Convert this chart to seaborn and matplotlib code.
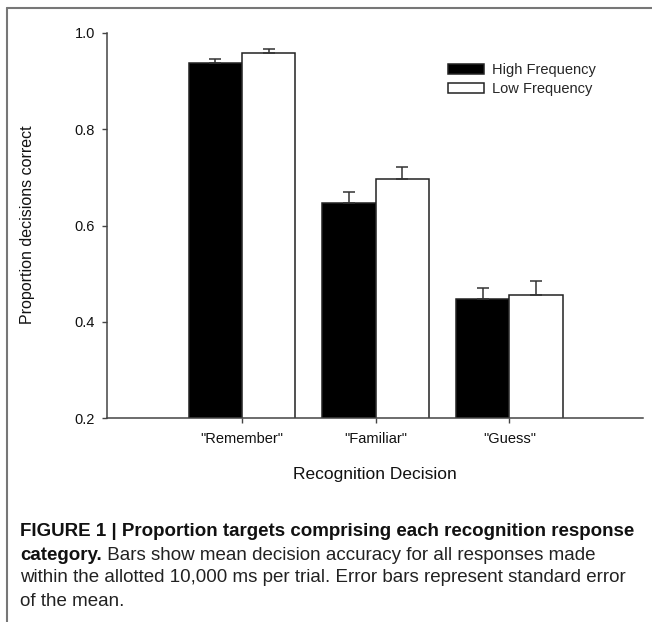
import matplotlib
matplotlib.use('Agg')
import matplotlib.pyplot as plt
from matplotlib.lines import Line2D
import seaborn as sns
import pandas as pd

decisions = ['"Remember"', '"Familiar"', '"Guess"']
groups = ['High Frequency', 'Low Frequency']
high_mean = [0.937, 0.646, 0.448]
low_mean = [0.958, 0.697, 0.455]
high_se = [0.009, 0.023, 0.023]
low_se = [0.008, 0.025, 0.029]

caption_1 = 'FIGURE 1 | Proportion targets comprising each recognition response'
caption_2b = 'category.'
caption_2 = ' Bars show mean decision accuracy for all responses made'
caption_3 = 'within the allotted 10,000 ms per trial. Error bars represent standard error'
caption_4 = 'of the mean.'

df = pd.DataFrame({
    'decision': decisions * 2,
    'freq': [groups[0]] * 3 + [groups[1]] * 3,
    'mean': high_mean + low_mean,
})

sns.set_style('white')
plt.rcParams['font.family'] = ['Liberation Sans', 'DejaVu Sans']

W, H = 652, 622
fig = plt.figure(figsize=(W / 100, H / 100), dpi=100)
ax = fig.add_axes([107 / W, 1 - 418 / H, (643 - 107) / W, (418 - 33) / H])

sns.barplot(data=df, x='decision', y='mean', hue='freq', palette=['black', 'white'],
            edgecolor='#222222', linewidth=1.1, errorbar=None, width=0.8, gap=0, ax=ax)

# one-sided error bars (upward only)
for cont, ses in zip(ax.containers, [high_se, low_se]):
    for bar, s in zip(cont, ses):
        xc = bar.get_x() + bar.get_width() / 2
        ax.errorbar(xc, bar.get_height(), yerr=[[0], [s]], fmt='none',
                    ecolor='#333333', elinewidth=1.1, capsize=4.6, capthick=1.1, zorder=1)

ax.set_ylim(0.2, 1.0)
ax.set_xlim(-1.01, 3.0)
ax.set_yticks([0.2, 0.4, 0.6, 0.8, 1.0])
ax.set_yticklabels(['0.2', '0.4', '0.6', '0.8', '1.0'])
sns.despine(ax=ax)
for sp in ['left', 'bottom']:
    ax.spines[sp].set_color('#444444')
    ax.spines[sp].set_linewidth(1.1)
ax.tick_params(axis='both', direction='out', length=3.6, width=1, color='#444444',
               labelsize=10.5, labelcolor='#111111', left=True, bottom=True)
ax.tick_params(axis='y', pad=5)
ax.tick_params(axis='x', pad=6.5)

ax.set_xlabel('Recognition Decision', fontsize=12.5, color='#111111')
ax.xaxis.set_label_coords(0.5, (418 - 475) / 385)
ax.xaxis.label.set_va('center')
ax.set_ylabel('Proportion decisions correct', fontsize=11.5, color='#111111')
ax.yaxis.set_label_coords((28 - 107) / 536, (418 - 225) / 385)
ax.yaxis.label.set_va('center')

ax.legend(loc='upper left', bbox_to_anchor=(448 / W, 1 - 63 / H), bbox_transform=fig.transFigure,
          frameon=False, fontsize=10.5, handlelength=2.5, handleheight=0.69,
          handletextpad=0.55, labelspacing=0.35, borderpad=0, borderaxespad=0)

# frame lines of the figure panel
fig.add_artist(Line2D([7 / W, 7 / W], [0, 1 - 8 / H], color='#777777', lw=1.5))
fig.add_artist(Line2D([7 / W, 1], [1 - 8 / H, 1 - 8 / H], color='#777777', lw=1.5))

cap_font = ['Liberation Sans', 'DejaVu Sans']
cap_size = 13.5
x0 = 20 / W
fig.text(x0, 1 - 532 / H, caption_1, fontsize=cap_size, fontweight='bold', family=cap_font,
         va='center', color='#111111')
t2 = fig.text(x0, 1 - 555 / H, caption_2b, fontsize=cap_size, fontweight='bold', family=cap_font,
              va='center', color='#111111')
fig.canvas.draw()
bb = t2.get_window_extent(fig.canvas.get_renderer())
fig.text(bb.x1 / W, 1 - 555 / H, caption_2, fontsize=cap_size, family=cap_font, va='center', color='#222222')
fig.text(x0, 1 - 578 / H, caption_3, fontsize=cap_size, family=cap_font, va='center', color='#222222')
fig.text(x0, 1 - 601 / H, caption_4, fontsize=cap_size, family=cap_font, va='center', color='#222222')

fig.savefig('out.png', dpi=100)
